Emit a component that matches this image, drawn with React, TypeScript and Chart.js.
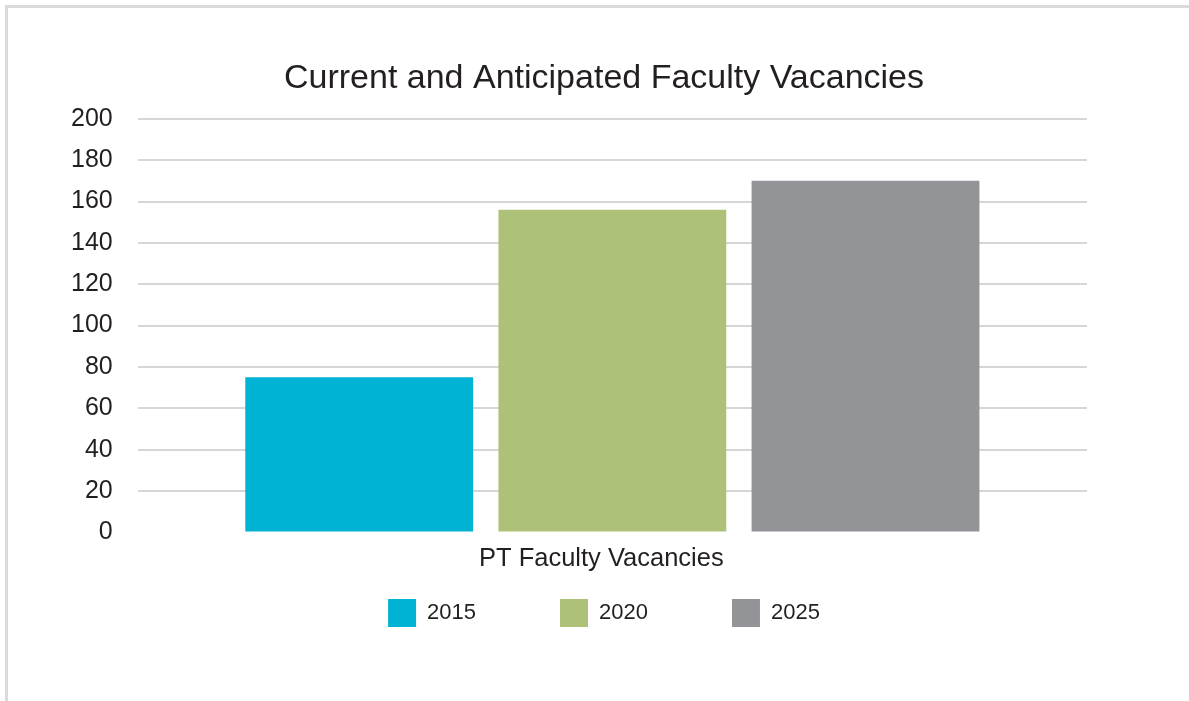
import React, { useEffect, useRef } from "react";
import { Chart, registerables } from "chart.js";

Chart.register(...registerables);

const TITLE = "Current and Anticipated Faculty Vacancies";
const CATEGORIES = ["PT Faculty Vacancies"];
const SERIES_NAMES = ["2015", "2020", "2025"];
const VALUES_2015 = [75];
const VALUES_2020 = [156];
const VALUES_2025 = [170];
const SERIES_COLORS = ["#00B2D3", "#ADC178", "#939497"];
const Y_MIN = 0;
const Y_MAX = 200;
const Y_STEP = 20;

const FONT = "'Liberation Sans', Arial, Helvetica, sans-serif";
const TEXT = "#231f20";
const GRID = "#d6d6d6";
const LEGEND_BOX_TOP = 599;
const TEXT_CENTER_X = 604;

const boxAdjust = {
  id: "boxAdjust",
  afterLayout(chart: any) {
    const lg = chart.legend;
    if (lg) {
      const pad = lg.options.labels.padding;
      const h = lg.bottom - lg.top;
      lg.top = LEGEND_BOX_TOP - pad;
      lg.bottom = lg.top + h;
      lg.left = 2 * TEXT_CENTER_X - lg.right;
    }
    const tt = chart.titleBlock;
    if (tt) {
      tt.left = 2 * TEXT_CENTER_X - tt.right;
    }
  },
};

export default function App() {
  const ref = useRef<HTMLCanvasElement | null>(null);

  useEffect(() => {
    if (!ref.current) return;
    const seriesValues = [VALUES_2015, VALUES_2020, VALUES_2025];
    const chart = new Chart(ref.current, {
      type: "bar",
      data: {
        labels: CATEGORIES,
        datasets: SERIES_NAMES.map((name, i) => ({
          label: name,
          data: seriesValues[i],
          backgroundColor: SERIES_COLORS[i],
          borderWidth: 0,
          categoryPercentage: 0.8,
          barPercentage: 0.9,
        })),
      },
      options: {
        animation: false,
        responsive: false,
        layout: { padding: { left: 46, right: 102, top: 0, bottom: 2 } },
        plugins: {
          title: {
            display: true,
            text: TITLE,
            color: TEXT,
            font: { family: FONT, size: 34, weight: "normal" },
            padding: { top: 58, bottom: 20 },
          },
          legend: {
            display: true,
            position: "bottom",
            labels: {
              boxWidth: 28,
              boxHeight: 28,
              padding: 84,
              color: TEXT,
              font: { family: FONT, size: 22 },
            },
          },
          tooltip: { enabled: false },
        },
        scales: {
          x: {
            grid: { display: false },
            border: { display: false },
            ticks: {
              color: TEXT,
              font: { family: FONT, size: 25.5 },
              padding: 3,
              labelOffset: -11,
            },
          },
          y: {
            min: Y_MIN,
            max: Y_MAX,
            border: { display: false },
            grid: {
              drawTicks: false,
              lineWidth: 2,
              color: (ctx: any) => (ctx.tick && ctx.tick.value === 0 ? "rgba(0,0,0,0)" : GRID),
            },
            ticks: {
              stepSize: Y_STEP,
              color: TEXT,
              padding: 25,
              font: { family: FONT, size: 25 },
            },
          },
        },
      },
      plugins: [boxAdjust],
    });
    return () => chart.destroy();
  }, []);

  return (
    <div style={{ position: "absolute", left: 0, top: 0, width: 1189, height: 701, overflow: "hidden", background: "#fff" }}>
      <div
        style={{
          position: "absolute",
          left: 5,
          top: 5,
          width: 1300,
          height: 900,
          border: "3px solid #dadada",
        }}
      />
      <canvas ref={ref} width={1189} height={701} style={{ position: "absolute", left: 0, top: 0, display: "block" }} />
    </div>
  );
}
